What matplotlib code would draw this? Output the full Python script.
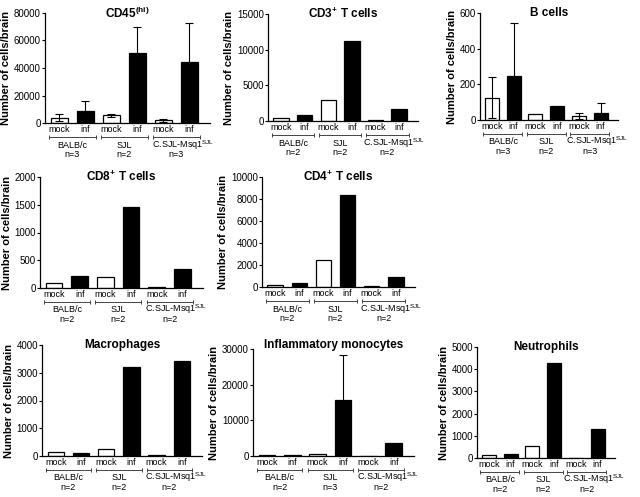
import numpy as np
import matplotlib
matplotlib.use("Agg")
import matplotlib.pyplot as plt
from matplotlib.transforms import offset_copy

plt.rcParams['font.family'] = ['Liberation Sans', 'DejaVu Sans']
plt.rcParams['mathtext.fontset'] = 'custom'
plt.rcParams['mathtext.rm'] = 'Liberation Sans'
plt.rcParams['mathtext.bf'] = 'Liberation Sans:bold'
plt.rcParams['mathtext.default'] = 'regular'

# datos (orden: BALB mock, BALB inf, SJL mock, SJL inf, C.SJL mock, C.SJL inf)
condiciones = ["mock", "inf"] * 3
grupos = ["BALB/c", "SJL", "C.SJL-Msq1$^{SJL}$"]

cd45_vals = [4000, 8500, 5500, 51000, 2000, 44000]
cd45_err = [2800, 7500, 1000, 19000, 1000, 28500]
cd45_n = [3, 2, 3]

cd3_vals = [400, 800, 2900, 11200, 100, 1750]
cd3_n = [2, 2, 2]

b_vals = [125, 245, 35, 80, 22, 42]
b_err = [115, 300, 0, 0, 15, 55]
b_n = [3, 2, 3]

cd8_vals = [90, 220, 200, 1460, 15, 340]
cd8_n = [2, 2, 2]

cd4_vals = [200, 350, 2480, 8350, 50, 950]
cd4_n = [2, 2, 2]

macro_vals = [130, 100, 240, 3200, 50, 3430]
macro_n = [2, 2, 2]

mono_vals = [150, 250, 600, 15700, 30, 3700]
mono_err = [0, 0, 0, 12500, 0, 0]
mono_n = [2, 3, 2]

neutro_vals = [150, 180, 520, 4280, 10, 1300]
neutro_n = [2, 2, 2]

paneles = [
    # titulo, valores, errores, n, ticks y, caja en pixeles (izq, der, arriba, abajo)
    (r"CD45$^{\mathbf{(hi)}}$", cd45_vals, cd45_err, cd45_n, np.arange(0, 80001, 20000), (45, 210, 13, 123)),
    (r"CD3$^{\mathbf{+}}$ T cells", cd3_vals, None, cd3_n, np.arange(0, 15001, 5000), (268, 418, 14, 121)),
    ("B cells", b_vals, b_err, b_n, np.arange(0, 601, 200), (480, 618, 13, 120)),
    (r"CD8$^{\mathbf{+}}$ T cells", cd8_vals, None, cd8_n, np.arange(0, 2001, 500), (40, 203, 177, 288)),
    (r"CD4$^{\mathbf{+}}$ T cells", cd4_vals, None, cd4_n, np.arange(0, 10001, 2000), (262, 415, 177, 287)),
    ("Macrophages", macro_vals, None, macro_n, np.arange(0, 4001, 1000), (42, 202, 345, 456)),
    ("Inflammatory monocytes", mono_vals, mono_err, mono_n, np.arange(0, 30001, 10000), (253, 414, 349, 456)),
    ("Neutrophils", neutro_vals, None, neutro_n, np.arange(0, 5001, 1000), (477, 615, 347, 458)),
]

W, H = 640, 497
fig = plt.figure(figsize=(W / 100, H / 100), dpi=100)

x = np.arange(6)
colores = ["white", "black"] * 3

for titulo, vals, err, n, yticks, (l, r, t, b) in paneles:
    ax = fig.add_axes([l / W, (H - b) / H, (r - l) / W, (b - t) / H])
    ax.bar(x, vals, width=0.65, color=colores, edgecolor="black", linewidth=0.9)
    if err is not None:
        idx = [i for i in range(6) if err[i] > 0]
        ax.errorbar(x[idx], np.array(vals)[idx], yerr=np.array(err)[idx], fmt="none",
                    ecolor="black", elinewidth=0.8, capsize=3, capthick=0.8)
    ax.set_xlim(-0.55, 5.8)
    ax.set_ylim(0, yticks[-1])
    ax.set_yticks(yticks)
    ax.tick_params(axis="y", labelsize=7, length=2, width=0.8, pad=1)
    ax.set_xticks(x, condiciones)
    ax.tick_params(axis="x", labelsize=6.5, length=0, pad=1.5)
    for s in ["top", "right"]:
        ax.spines[s].set_visible(False)
    ax.spines["left"].set_linewidth(0.9)
    ax.spines["bottom"].set_linewidth(0.9)
    ax.set_ylabel("Number of cells/brain", fontsize=8, fontweight="bold", labelpad=2)

    dy = -4 if titulo.startswith("Inflam") else 0
    ax.text(0.5, 1.0, titulo, transform=offset_copy(ax.transAxes, fig=fig, y=-dy, units="dots"),
            ha="center", va="center", fontsize=8.5, fontweight="bold")

    # corchetes de grupo y etiquetas
    tr_linea = offset_copy(ax.get_xaxis_transform(), fig=fig, y=-14, units="dots")
    tr_n = offset_copy(ax.get_xaxis_transform(), fig=fig, y=-34, units="dots")
    for g in range(3):
        x0, x1 = x[2 * g] - 0.4, x[2 * g + 1] + 0.4
        ax.plot([x0, x1], [0, 0], color="#444444", lw=0.7, transform=tr_linea, clip_on=False)
        ax.plot([x0, x1], [0, 0], ls="none", marker="|", ms=3, mew=0.7, color="#444444",
                transform=tr_linea, clip_on=False)
        xc = (x[2 * g] + x[2 * g + 1]) / 2
        dx = 7 if g == 2 else 0
        tr_grupo = offset_copy(ax.get_xaxis_transform(), fig=fig, x=dx, y=-24.5, units="dots")
        ax.text(xc, 0, grupos[g], transform=tr_grupo, ha="center", va="baseline", fontsize=6.5)
        ax.text(xc, 0, f"n={n[g]}", transform=tr_n, ha="center", va="baseline", fontsize=6.5)

fig.savefig("out.png", dpi=100)
